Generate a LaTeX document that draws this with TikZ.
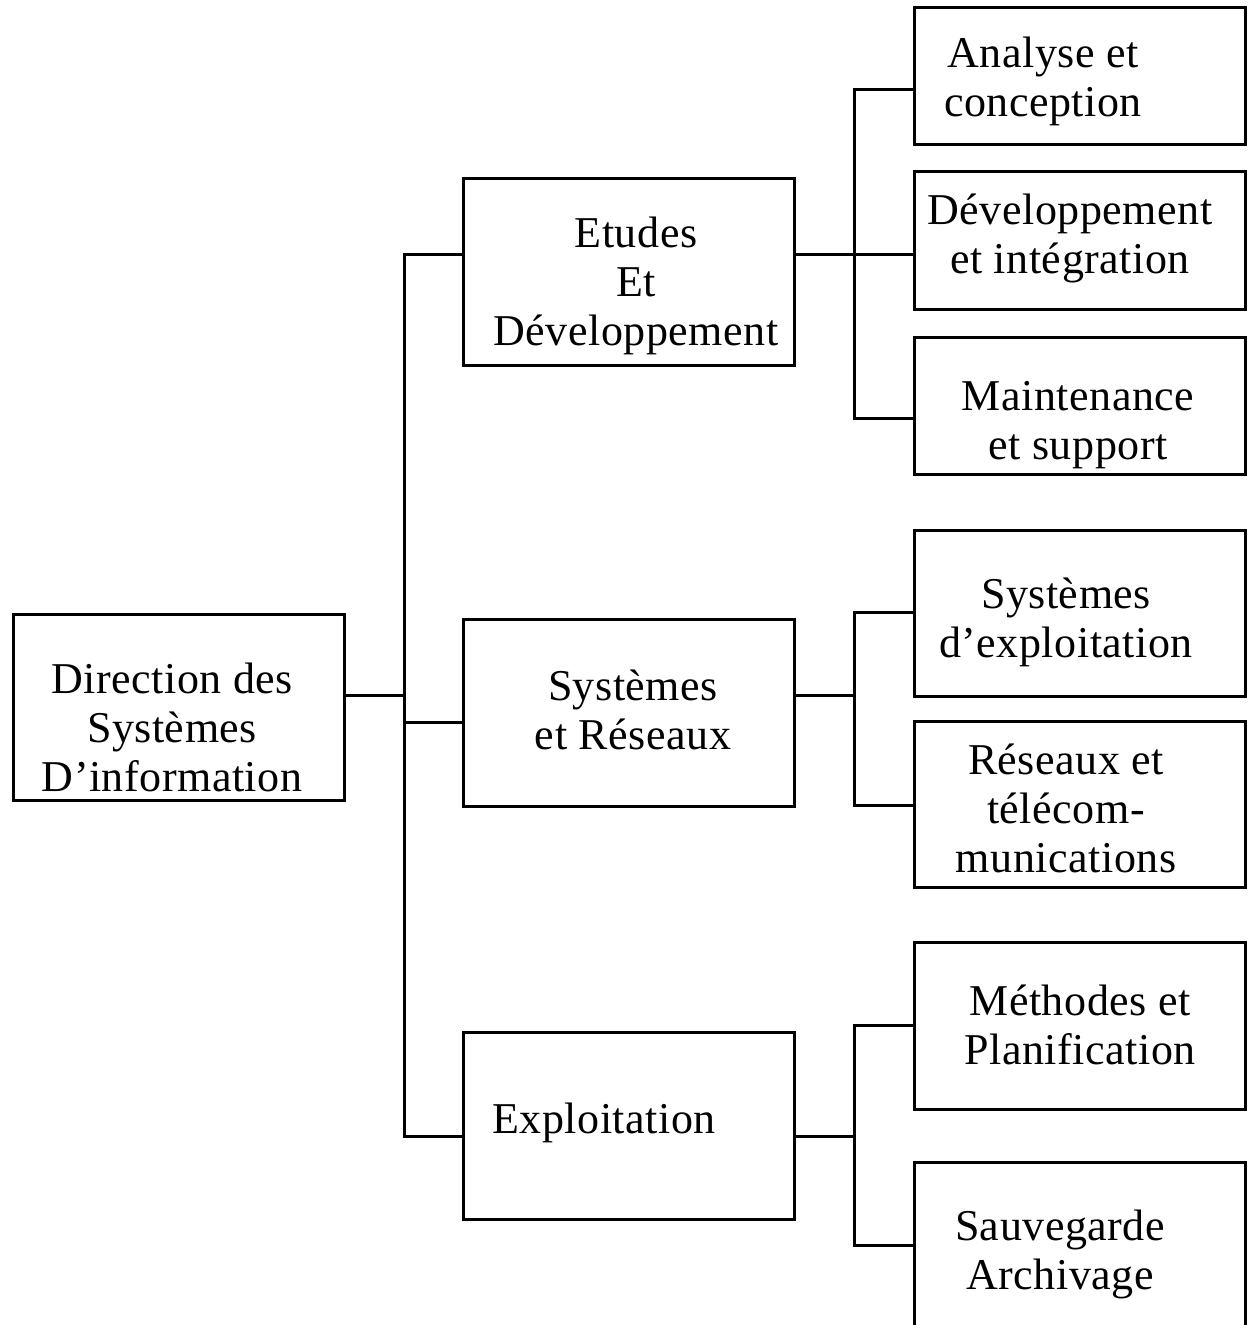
\documentclass[tikz,border=0pt]{standalone}
\usepackage{fontspec}
\setmainfont[LetterSpace=1.2]{Liberation Serif}
\begin{document}
\begin{tikzpicture}[x=0.5pt,y=-0.5pt,
  box/.style={draw,line width=1.5pt,inner sep=0pt,minimum width=165.5pt},
  conn/.style={line width=1.5pt},
  txt/.style={font=\fontsize{22}{24.5}\selectfont,align=center,inner sep=0pt}]
\useasboundingbox (0,0) rectangle (1255,1325);
\clip (0,0) rectangle (1255,1325);

% level 0
\node[box,minimum height=93pt] (root) at (178.5,707) {};
% level 1
\node[box,minimum height=93.5pt] (etu) at (629,272.5) {};
\node[box,minimum height=93.5pt] (sr)  at (629,712.5) {};
\node[box,minimum height=93.5pt] (exp) at (629,1125.5) {};
% level 2
\node[box,minimum height=68.5pt] (ana) at (1080,76.5) {};
\node[box,minimum height=69pt]   (dev) at (1080,241) {};
\node[box,minimum height=68.5pt] (mnt) at (1080,406.5) {};
\node[box,minimum height=83pt]   (sys) at (1080,613) {};
\node[box,minimum height=83pt]   (res) at (1080,804) {};
\node[box,minimum height=83.5pt] (met) at (1080,1025.5) {};
\node[box,minimum height=83pt]   (sav) at (1080,1245) {};

% labels
\node[txt] (t-root) at (172,727) {Direction des\\Systèmes\\D’information};
\node[txt] (t-etu) at (636,286) {Etudes\\Et\\Développement};
\node[txt] (t-sr) at (633,709.5) {Systèmes\\et Réseaux};
\node[txt] (t-exp) at (604,1123) {Exploitation};
\node[txt] (t-ana) at (1043,81) {Analyse et\\conception};
\node[txt] (t-dev) at (1070,238) {Développement\\et intégration};
\node[txt] (t-mnt) at (1078,425) {Maintenance\\et support};
\node[txt] (t-sys) at (1066,622) {Systèmes\\d’exploitation};
\node[txt] (t-res) at (1066,808) {Réseaux et\\télécom-\\munications};
\node[txt] (t-met) at (1080,1024.5) {Méthodes et\\Planification};
\node[txt] (t-sav) at (1060,1254) {Sauvegarde\\Archivage};

% trunk from the root
\coordinate (trunk) at (404,695);
\draw[conn] (root.east |- trunk) -- (trunk);
\draw[conn] (etu.west |- 0,255) -| (404,1136) -- (exp.west |- 0,1136);
\draw[conn] (404,722) -- (sr.west |- 0,722);

% branch: Etudes et Développement
\coordinate (b1) at (854,255);
\draw[conn] (etu.east |- b1) -- (b1);
\draw[conn] (ana.west |- 0,90) -| (854,419) -- (mnt.west |- 0,419);
\draw[conn] (b1) -- (dev.west |- b1);

% branch: Systèmes et Réseaux
\coordinate (b2) at (854,695);
\draw[conn] (sr.east |- b2) -- (b2);
\draw[conn] (sys.west |- 0,612) -| (854,805) -- (res.west |- 0,805);

% branch: Exploitation
\coordinate (b3) at (854,1136);
\draw[conn] (exp.east |- b3) -- (b3);
\draw[conn] (met.west |- 0,1025) -| (854,1245) -- (sav.west |- 0,1245);
\end{tikzpicture}
\end{document}
